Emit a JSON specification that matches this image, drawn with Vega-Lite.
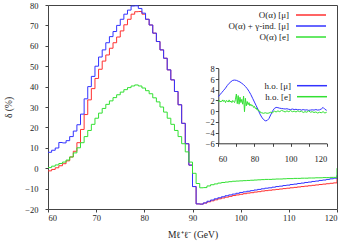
{
"$schema": "https://vega.github.io/schema/vega-lite/v6.json",
"width": 289, "height": 204,
"autosize": {"type": "none"},
"padding": {"left": 48, "top": 5, "right": 10, "bottom": 36},
"background": "white",
"config": {
 "font": "Liberation Serif",
 "view": {"stroke": "#444", "strokeWidth": 1},
 "axis": {"labelFont": "Liberation Serif", "labelFontSize": 8.5, "labelColor": "#222", "titleFont": "Liberation Serif", "titleFontWeight": "normal", "titleFontSize": 9.5, "titleColor": "#222", "grid": false, "domain": false, "tickSize": 3, "tickColor": "#444", "tickWidth": 1},
 "legend": {"orient": "none", "symbolType": "M-3,0H3", "symbolSize": 100, "symbolStrokeWidth": 1.5, "labelAlign": "right", "labelFont": "Liberation Serif", "labelFontSize": 9, "labelColor": "#222", "padding": 0, "rowPadding": 0, "labelLimit": 200}
},
"datasets": {
"main": [
{"m":60,"s":"a","d":-1.3},{"m":60.75,"s":"a","d":-0.6},{"m":61.5,"s":"a","d":0.2},{"m":62.25,"s":"a","d":1.2},{"m":63,"s":"a","d":2.2},{"m":63.75,"s":"a","d":3.6},{"m":64.5,"s":"a","d":5.5},{"m":65.25,"s":"a","d":8.3},{"m":66,"s":"a","d":12.5},{"m":66.75,"s":"a","d":19.0},{"m":67.5,"s":"a","d":26.3},{"m":68.25,"s":"a","d":33.5},{"m":69,"s":"a","d":39.0},{"m":69.75,"s":"a","d":44.0},{"m":70.5,"s":"a","d":48.5},{"m":71.25,"s":"a","d":52.5},{"m":72,"s":"a","d":55.5},{"m":72.75,"s":"a","d":58.8},{"m":73.5,"s":"a","d":61.5},{"m":74.25,"s":"a","d":64.3},{"m":75,"s":"a","d":67.3},{"m":75.75,"s":"a","d":70.3},{"m":76.5,"s":"a","d":73.0},{"m":77.25,"s":"a","d":75.5},{"m":78,"s":"a","d":76.7},{"m":78.75,"s":"a","d":76.8},{"m":79.5,"s":"a","d":75.5},{"m":80.25,"s":"a","d":73.0},{"m":81,"s":"a","d":70.2},{"m":81.75,"s":"a","d":66.2},{"m":82.5,"s":"a","d":62.1},{"m":83.25,"s":"a","d":58.0},{"m":84,"s":"a","d":53.9},{"m":84.75,"s":"a","d":48.2},{"m":85.5,"s":"a","d":43.3},{"m":86.25,"s":"a","d":37.6},{"m":87,"s":"a","d":31.1},{"m":87.75,"s":"a","d":22.0},{"m":88.5,"s":"a","d":12.0},{"m":89.25,"s":"a","d":1.5},{"m":90,"s":"a","d":-9.0},{"m":90.75,"s":"a","d":-17.5},{"m":91.5,"s":"a","d":-17.6},{"m":92.25,"s":"a","d":-17.1},{"m":93,"s":"a","d":-16.5},{"m":93.75,"s":"a","d":-16.0},{"m":94.5,"s":"a","d":-15.5},{"m":95.25,"s":"a","d":-15.0},{"m":96,"s":"a","d":-14.6},{"m":96.75,"s":"a","d":-14.2},{"m":97.5,"s":"a","d":-13.8},{"m":98.25,"s":"a","d":-13.4},{"m":99,"s":"a","d":-13.1},{"m":99.75,"s":"a","d":-12.8},{"m":100.5,"s":"a","d":-12.5},{"m":101.25,"s":"a","d":-12.2},{"m":102,"s":"a","d":-12.0},{"m":102.75,"s":"a","d":-11.7},{"m":103.5,"s":"a","d":-11.5},{"m":104.25,"s":"a","d":-11.2},{"m":105,"s":"a","d":-11.0},{"m":105.75,"s":"a","d":-10.8},{"m":106.5,"s":"a","d":-10.6},{"m":107.25,"s":"a","d":-10.4},{"m":108,"s":"a","d":-10.2},{"m":108.75,"s":"a","d":-10.0},{"m":109.5,"s":"a","d":-9.8},{"m":110.25,"s":"a","d":-9.6},{"m":111,"s":"a","d":-9.4},{"m":111.75,"s":"a","d":-9.2},{"m":112.5,"s":"a","d":-9.0},{"m":113.25,"s":"a","d":-8.8},{"m":114,"s":"a","d":-8.6},{"m":114.75,"s":"a","d":-8.4},{"m":115.5,"s":"a","d":-8.2},{"m":116.25,"s":"a","d":-8.0},{"m":117,"s":"a","d":-7.8},{"m":117.75,"s":"a","d":-7.6},{"m":118.5,"s":"a","d":-7.4},{"m":119.25,"s":"a","d":-7.2},{"m":120,"s":"a","d":-4.8},
{"m":60,"s":"b","d":7.8},{"m":60.75,"s":"b","d":8.8},{"m":61.5,"s":"b","d":9.9},{"m":62.25,"s":"b","d":12.6},{"m":63,"s":"b","d":12.4},{"m":63.75,"s":"b","d":13.5},{"m":64.5,"s":"b","d":15.5},{"m":65.25,"s":"b","d":18.2},{"m":66,"s":"b","d":21.3},{"m":66.75,"s":"b","d":26.5},{"m":67.5,"s":"b","d":34.0},{"m":68.25,"s":"b","d":40.0},{"m":69,"s":"b","d":45.0},{"m":69.75,"s":"b","d":50.0},{"m":70.5,"s":"b","d":54.5},{"m":71.25,"s":"b","d":58.0},{"m":72,"s":"b","d":61.5},{"m":72.75,"s":"b","d":64.5},{"m":73.5,"s":"b","d":67.0},{"m":74.25,"s":"b","d":70.0},{"m":75,"s":"b","d":73.0},{"m":75.75,"s":"b","d":75.5},{"m":76.5,"s":"b","d":77.5},{"m":77.25,"s":"b","d":79.5},{"m":78,"s":"b","d":79.6},{"m":78.75,"s":"b","d":78.3},{"m":79.5,"s":"b","d":76.0},{"m":80.25,"s":"b","d":73.0},{"m":81,"s":"b","d":70.2},{"m":81.75,"s":"b","d":66.2},{"m":82.5,"s":"b","d":62.1},{"m":83.25,"s":"b","d":58.0},{"m":84,"s":"b","d":53.9},{"m":84.75,"s":"b","d":48.2},{"m":85.5,"s":"b","d":43.3},{"m":86.25,"s":"b","d":37.6},{"m":87,"s":"b","d":31.1},{"m":87.75,"s":"b","d":22.0},{"m":88.5,"s":"b","d":12.0},{"m":89.25,"s":"b","d":1.5},{"m":90,"s":"b","d":-9.0},{"m":90.75,"s":"b","d":-17.5},{"m":91.5,"s":"b","d":-17.6},{"m":92.25,"s":"b","d":-17.0},{"m":93,"s":"b","d":-16.2},{"m":93.75,"s":"b","d":-15.6},{"m":94.5,"s":"b","d":-15.0},{"m":95.25,"s":"b","d":-14.5},{"m":96,"s":"b","d":-14.0},{"m":96.75,"s":"b","d":-13.5},{"m":97.5,"s":"b","d":-13.1},{"m":98.25,"s":"b","d":-12.7},{"m":99,"s":"b","d":-12.3},{"m":99.75,"s":"b","d":-11.9},{"m":100.5,"s":"b","d":-11.6},{"m":101.25,"s":"b","d":-11.3},{"m":102,"s":"b","d":-11.0},{"m":102.75,"s":"b","d":-10.7},{"m":103.5,"s":"b","d":-10.4},{"m":104.25,"s":"b","d":-10.1},{"m":105,"s":"b","d":-9.8},{"m":105.75,"s":"b","d":-9.6},{"m":106.5,"s":"b","d":-9.3},{"m":107.25,"s":"b","d":-9.0},{"m":108,"s":"b","d":-8.8},{"m":108.75,"s":"b","d":-8.5},{"m":109.5,"s":"b","d":-8.3},{"m":110.25,"s":"b","d":-8.0},{"m":111,"s":"b","d":-7.8},{"m":111.75,"s":"b","d":-7.5},{"m":112.5,"s":"b","d":-7.3},{"m":113.25,"s":"b","d":-7.0},{"m":114,"s":"b","d":-6.8},{"m":114.75,"s":"b","d":-6.5},{"m":115.5,"s":"b","d":-6.3},{"m":116.25,"s":"b","d":-6.0},{"m":117,"s":"b","d":-5.8},{"m":117.75,"s":"b","d":-5.5},{"m":118.5,"s":"b","d":-5.2},{"m":119.25,"s":"b","d":-4.9},{"m":120,"s":"b","d":-3.5},
{"m":60,"s":"c","d":0.3},{"m":60.75,"s":"c","d":1.0},{"m":61.5,"s":"c","d":1.6},{"m":62.25,"s":"c","d":2.3},{"m":63,"s":"c","d":3.0},{"m":63.75,"s":"c","d":4.0},{"m":64.5,"s":"c","d":5.5},{"m":65.25,"s":"c","d":7.5},{"m":66,"s":"c","d":10.0},{"m":66.75,"s":"c","d":12.5},{"m":67.5,"s":"c","d":15.5},{"m":68.25,"s":"c","d":18.5},{"m":69,"s":"c","d":21.5},{"m":69.75,"s":"c","d":24.5},{"m":70.5,"s":"c","d":27.0},{"m":71.25,"s":"c","d":29.3},{"m":72,"s":"c","d":31.3},{"m":72.75,"s":"c","d":33.0},{"m":73.5,"s":"c","d":34.6},{"m":74.25,"s":"c","d":36.0},{"m":75,"s":"c","d":37.3},{"m":75.75,"s":"c","d":38.5},{"m":76.5,"s":"c","d":39.5},{"m":77.25,"s":"c","d":40.3},{"m":78,"s":"c","d":40.8},{"m":78.75,"s":"c","d":40.3},{"m":79.5,"s":"c","d":39.3},{"m":80.25,"s":"c","d":38.0},{"m":81,"s":"c","d":36.5},{"m":81.75,"s":"c","d":34.5},{"m":82.5,"s":"c","d":32.5},{"m":83.25,"s":"c","d":30.0},{"m":84,"s":"c","d":27.5},{"m":84.75,"s":"c","d":24.5},{"m":85.5,"s":"c","d":21.5},{"m":86.25,"s":"c","d":18.5},{"m":87,"s":"c","d":15.5},{"m":87.75,"s":"c","d":12.0},{"m":88.5,"s":"c","d":8.0},{"m":89.25,"s":"c","d":3.0},{"m":90,"s":"c","d":-2.5},{"m":90.75,"s":"c","d":-7.5},{"m":91.5,"s":"c","d":-9.6},{"m":92.25,"s":"c","d":-9.5},{"m":93,"s":"c","d":-8.7},{"m":93.75,"s":"c","d":-8.1},{"m":94.5,"s":"c","d":-7.7},{"m":95.25,"s":"c","d":-7.3},{"m":96,"s":"c","d":-7.0},{"m":96.75,"s":"c","d":-6.8},{"m":97.5,"s":"c","d":-6.6},{"m":98.25,"s":"c","d":-6.4},{"m":99,"s":"c","d":-6.3},{"m":99.75,"s":"c","d":-6.2},{"m":100.5,"s":"c","d":-6.1},{"m":101.25,"s":"c","d":-6.0},{"m":102,"s":"c","d":-5.9},{"m":102.75,"s":"c","d":-5.8},{"m":103.5,"s":"c","d":-5.7},{"m":104.25,"s":"c","d":-5.6},{"m":105,"s":"c","d":-5.5},{"m":105.75,"s":"c","d":-5.5},{"m":106.5,"s":"c","d":-5.4},{"m":107.25,"s":"c","d":-5.3},{"m":108,"s":"c","d":-5.3},{"m":108.75,"s":"c","d":-5.2},{"m":109.5,"s":"c","d":-5.1},{"m":110.25,"s":"c","d":-5.1},{"m":111,"s":"c","d":-5.0},{"m":111.75,"s":"c","d":-5.0},{"m":112.5,"s":"c","d":-4.9},{"m":113.25,"s":"c","d":-4.9},{"m":114,"s":"c","d":-4.8},{"m":114.75,"s":"c","d":-4.8},{"m":115.5,"s":"c","d":-4.7},{"m":116.25,"s":"c","d":-4.7},{"m":117,"s":"c","d":-4.6},{"m":117.75,"s":"c","d":-4.6},{"m":118.5,"s":"c","d":-4.5},{"m":119.25,"s":"c","d":-4.5},{"m":120,"s":"c","d":0.0}
],
"inset": [
{"m":60,"s":"u","h":2.7},{"m":61,"s":"u","h":3.1},{"m":62,"s":"u","h":3.5},{"m":63,"s":"u","h":3.9},{"m":64,"s":"u","h":4.3},{"m":65,"s":"u","h":4.8},{"m":66,"s":"u","h":5.2},{"m":67,"s":"u","h":5.5},{"m":68,"s":"u","h":5.75},{"m":69,"s":"u","h":5.8},{"m":70,"s":"u","h":5.75},{"m":71,"s":"u","h":5.6},{"m":72,"s":"u","h":5.45},{"m":73,"s":"u","h":5.2},{"m":74,"s":"u","h":4.95},{"m":75,"s":"u","h":4.6},{"m":76,"s":"u","h":4.2},{"m":77,"s":"u","h":3.7},{"m":78,"s":"u","h":3.1},{"m":79,"s":"u","h":2.4},{"m":80,"s":"u","h":1.7},{"m":81,"s":"u","h":1.0},{"m":82,"s":"u","h":0.3},{"m":83,"s":"u","h":-0.5},{"m":84,"s":"u","h":-1.1},{"m":85,"s":"u","h":-1.55},{"m":86,"s":"u","h":-1.8},{"m":87,"s":"u","h":-1.75},{"m":88,"s":"u","h":-1.4},{"m":89,"s":"u","h":-0.7},{"m":90,"s":"u","h":0.0},{"m":91,"s":"u","h":0.5},{"m":92,"s":"u","h":0.7},{"m":93,"s":"u","h":0.65},{"m":94,"s":"u","h":0.55},{"m":95,"s":"u","h":0.5},{"m":96,"s":"u","h":0.45},{"m":97,"s":"u","h":0.4},{"m":98,"s":"u","h":0.45},{"m":99,"s":"u","h":0.35},{"m":100,"s":"u","h":0.3},{"m":101,"s":"u","h":0.4},{"m":102,"s":"u","h":0.3},{"m":103,"s":"u","h":0.35},{"m":104,"s":"u","h":0.25},{"m":105,"s":"u","h":0.3},{"m":106,"s":"u","h":0.2},{"m":107,"s":"u","h":0.3},{"m":108,"s":"u","h":0.2},{"m":109,"s":"u","h":0.25},{"m":110,"s":"u","h":0.15},{"m":111,"s":"u","h":0.2},{"m":112,"s":"u","h":0.25},{"m":113,"s":"u","h":0.2},{"m":114,"s":"u","h":0.3},{"m":115,"s":"u","h":0.2},{"m":116,"s":"u","h":0.25},{"m":117,"s":"u","h":0.4},{"m":118,"s":"u","h":0.7},{"m":119,"s":"u","h":0.35},{"m":120,"s":"u","h":0.15},
{"m":60,"s":"v","h":1.8},{"m":60.5,"s":"v","h":2.0},{"m":61,"s":"v","h":1.7},{"m":61.5,"s":"v","h":1.9},{"m":62,"s":"v","h":1.8},{"m":62.5,"s":"v","h":2.1},{"m":63,"s":"v","h":1.8},{"m":63.5,"s":"v","h":2.0},{"m":64,"s":"v","h":1.6},{"m":64.5,"s":"v","h":2.0},{"m":65,"s":"v","h":1.9},{"m":65.5,"s":"v","h":1.7},{"m":66,"s":"v","h":2.1},{"m":66.5,"s":"v","h":1.7},{"m":67,"s":"v","h":1.9},{"m":67.5,"s":"v","h":1.6},{"m":68,"s":"v","h":2.0},{"m":68.5,"s":"v","h":1.8},{"m":69,"s":"v","h":1.6},{"m":69.5,"s":"v","h":2.2},{"m":70,"s":"v","h":3.2},{"m":70.5,"s":"v","h":1.4},{"m":71,"s":"v","h":2.9},{"m":71.5,"s":"v","h":1.3},{"m":72,"s":"v","h":2.6},{"m":72.5,"s":"v","h":1.6},{"m":73,"s":"v","h":2.2},{"m":73.5,"s":"v","h":1.3},{"m":74,"s":"v","h":2.8},{"m":74.5,"s":"v","h":-0.1},{"m":75,"s":"v","h":2.4},{"m":75.5,"s":"v","h":1.0},{"m":76,"s":"v","h":1.8},{"m":76.5,"s":"v","h":1.2},{"m":77,"s":"v","h":1.6},{"m":77.5,"s":"v","h":1.0},{"m":78,"s":"v","h":1.3},{"m":78.5,"s":"v","h":1.0},{"m":79,"s":"v","h":1.1},{"m":79.5,"s":"v","h":0.7},{"m":80,"s":"v","h":0.9},{"m":80.5,"s":"v","h":0.5},{"m":81,"s":"v","h":0.6},{"m":81.5,"s":"v","h":0.2},{"m":82,"s":"v","h":0.3},{"m":82.5,"s":"v","h":0.0},{"m":83,"s":"v","h":0.0},{"m":83.5,"s":"v","h":-0.3},{"m":84,"s":"v","h":-0.3},{"m":85,"s":"v","h":-0.4},{"m":86,"s":"v","h":-0.3},{"m":87,"s":"v","h":-0.4},{"m":88,"s":"v","h":-0.35},{"m":89,"s":"v","h":-0.2},{"m":90,"s":"v","h":-0.3},{"m":91,"s":"v","h":0.0},{"m":92,"s":"v","h":-0.15},{"m":93,"s":"v","h":0.05},{"m":94,"s":"v","h":-0.1},{"m":95,"s":"v","h":0.15},{"m":96,"s":"v","h":0.0},{"m":97,"s":"v","h":-0.15},{"m":98,"s":"v","h":0.05},{"m":99,"s":"v","h":-0.1},{"m":100,"s":"v","h":0.1},{"m":101,"s":"v","h":-0.1},{"m":102,"s":"v","h":0.0},{"m":103,"s":"v","h":-0.15},{"m":104,"s":"v","h":0.05},{"m":105,"s":"v","h":-0.1},{"m":106,"s":"v","h":0.0},{"m":107,"s":"v","h":-0.25},{"m":108,"s":"v","h":-0.1},{"m":109,"s":"v","h":-0.2},{"m":110,"s":"v","h":0.05},{"m":111,"s":"v","h":-0.2},{"m":112,"s":"v","h":-0.1},{"m":113,"s":"v","h":-0.25},{"m":114,"s":"v","h":-0.15},{"m":115,"s":"v","h":-0.35},{"m":116,"s":"v","h":-0.2},{"m":117,"s":"v","h":-0.3},{"m":118,"s":"v","h":-0.1},{"m":119,"s":"v","h":-0.35},{"m":120,"s":"v","h":-0.2}
]
},
"layer": [
{
 "data": {"name": "main"},
 "mark": {"type": "line", "interpolate": "step-after", "strokeWidth": 1, "clip": true},
 "encoding": {
  "x": {"field": "m", "type": "quantitative", "scale": {"domain": [60, 120], "nice": false, "zero": false},
        "axis": {"orient": "bottom", "values": [60, 70, 80, 90, 100, 110, 120], "title": "Mℓ⁺ℓ⁻ (GeV)", "labelPadding": 1, "titlePadding": 8}},
  "y": {"field": "d", "type": "quantitative", "scale": {"domain": [-20, 80], "nice": false, "zero": false},
        "axis": {"orient": "left", "values": [-20, -10, 0, 10, 20, 30, 40, 50, 60, 70, 80], "title": "δ (%)", "labelPadding": 7, "titlePadding": 11}},
  "color": {"field": "s", "type": "nominal",
            "scale": {"domain": ["a", "b", "c"], "range": ["#ff3030", "#3333ff", "#33e033"]},
            "legend": {"legendX": 257, "legendY": 4, "title": null, "labelOffset": -28,
                       "labelExpr": "datum.value == 'a' ? 'O(α) [μ]' : datum.value == 'b' ? 'O(α) + γ-ind. [μ]' : 'O(α) [e]'"}}
 }
},
{
 "data": {"name": "inset"},
 "mark": {"type": "line", "strokeWidth": 1},
 "encoding": {
  "x": {"field": "m", "type": "quantitative", "scale": {"domain": [60, 120], "nice": false, "zero": false, "range": [170.3, 278.7]},
        "axis": {"orient": "bottom", "offset": -65.7, "values": [60, 70, 80, 90, 100, 110, 120], "title": null, "domain": true, "domainColor": "#333", "labelPadding": 8}},
  "y": {"field": "h", "type": "quantitative", "scale": {"domain": [-6, 8], "nice": false, "zero": false, "range": [138.3, 63.3]},
        "axis": {"orient": "left", "offset": -170.3, "values": [-6, -4, -2, 0, 2, 4, 6, 8], "title": null, "domain": true, "domainColor": "#333", "labelPadding": 1}},
  "color": {"field": "s", "type": "nominal",
            "scale": {"domain": ["u", "v"], "range": ["#3333ff", "#33e033"]},
            "legend": {"legendX": 258, "legendY": 74.7, "title": null, "labelOffset": -27,
                       "labelExpr": "datum.value == 'u' ? 'h.o. [μ]' : 'h.o. [e]'"}}
 }
}
],
"resolve": {"scale": {"x": "independent", "y": "independent", "color": "independent"}, "axis": {"x": "independent", "y": "independent"}, "legend": {"color": "independent"}}
}
